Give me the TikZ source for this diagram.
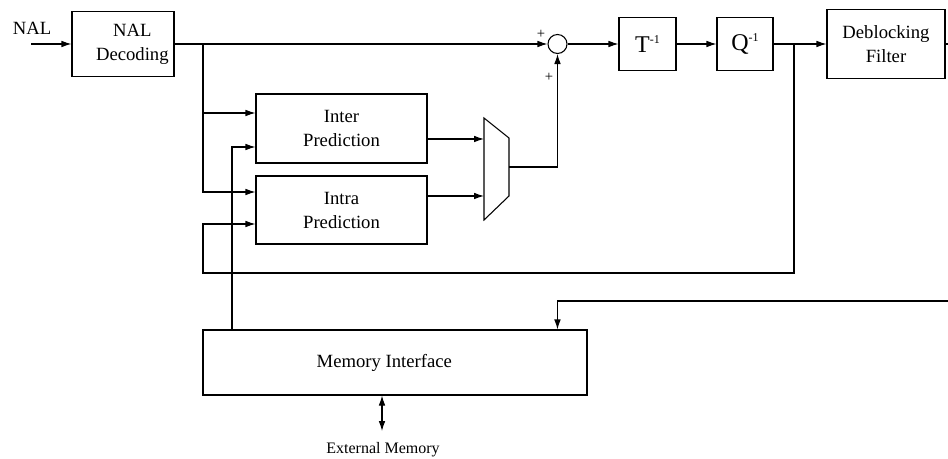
\documentclass[tikz,border=0pt]{standalone}
\usepackage{fontspec}
\setmainfont{Liberation Serif}
\usetikzlibrary{arrows.meta,calc}

\tikzset{blk/.style={draw, line width=0.8pt, align=center, font=\fontsize{14}{18}\selectfont},
  arr/.style={line width=0.8pt, -{Latex[length=7.5pt,width=5pt]}},
  wire/.style={line width=0.8pt},
  sgn/.style={font=\fontsize{11}{11}\selectfont, inner sep=0pt}}

\begin{document}
\begin{tikzpicture}[x=0.75pt,y=-0.75pt]
\useasboundingbox (0,0) rectangle (948,459);
% blocks
\node[font=\fontsize{14}{18}\selectfont] (naltxt) at (32,28) {NAL};
\coordinate (nalin) at (31,44);
\node[blk, minimum width=76.5pt, minimum height=48.75pt,
  label={[xshift=7pt, align=center, font=\fontsize{14}{18}\selectfont]center:NAL\\Decoding}] (dec) at (123,44) {};
\node[blk, minimum width=128.25pt, minimum height=51.75pt] (inter) at (341.5,128.5) {Inter\\Prediction};
\node[blk, minimum width=128.25pt, minimum height=51pt] (intra) at (341.5,210) {Intra\\Prediction};
\node[draw, circle, line width=0.8pt, minimum size=14.25pt, inner sep=0pt] (sum) at (557.5,44) {};
\node[sgn] (pa) at (541,34) {+};
\node[sgn] (pb) at (549,77) {+};
\node[blk, minimum width=42.75pt, minimum height=39.75pt, font=\fontsize{18}{20}\selectfont] (tinv) at (647.5,44) {T\raisebox{7pt}{\fontsize{9}{9}\selectfont -1}};
\node[blk, minimum width=42pt, minimum height=39.75pt, font=\fontsize{18}{20}\selectfont] (qinv) at (745,44) {Q\raisebox{7pt}{\fontsize{9}{9}\selectfont -1}};
\node[blk, minimum width=88.5pt, minimum height=51.75pt] (dbf) at (886,44) {Deblocking\\Filter};
\coordinate (dbout) at (948,44);
\node[blk, minimum width=288pt, minimum height=48.75pt,
  label={[xshift=-8pt, font=\fontsize{14}{18}\selectfont]center:Memory Interface}] (mem) at (395,362.5) {};
\coordinate (ext) at (382,431);
\node[font=\fontsize{12}{14}\selectfont] (extmem) at (383,450) {External Memory};
% mux
\draw[wire] (484,118) -- (509,138) -- (509,196) -- (484,220) -- cycle;
\coordinate (muxa) at (484,139);
\coordinate (muxb) at (484,196);
\coordinate (muxo) at (509,167);
% wires
\coordinate (br) at (203,44);
\coordinate (mtap) at (232,330);
\coordinate (qout) at (794,44);
\coordinate (memin) at (948,301);
\draw[arr] (nalin) -- (dec.west);
\draw[arr] (dec.east) -- (sum.west);
\draw[arr] (br) |- ($(inter.west)+(0,-15.5)$);
\draw[arr] (br) |- ($(intra.west)+(0,-18)$);
\draw[arr] (mtap) |- ($(inter.west)+(0,18.5)$);
\draw[arr] (muxa -| inter.east) -- (muxa);
\draw[arr] (muxb -| intra.east) -- (muxb);
\draw[arr] (muxo) -| (sum.south);
\draw[arr] (sum.east) -- (tinv.west);
\draw[arr] (tinv.east) -- (qinv.west);
\draw[arr] (qinv.east) -- (dbf.west);
\draw[wire] (dbf.east) -- (dbout);
\draw[arr] (qout) |- (203,273) |- ($(intra.west)+(0,14)$);
\draw[arr] (memin) -| ($(mem.north west)+(355,0)$);
\draw[{Latex[length=7.5pt,width=5pt]}-{Latex[length=7.5pt,width=5pt]}, line width=0.8pt] (mem.south -| ext) -- (ext);
\end{tikzpicture}
\end{document}
